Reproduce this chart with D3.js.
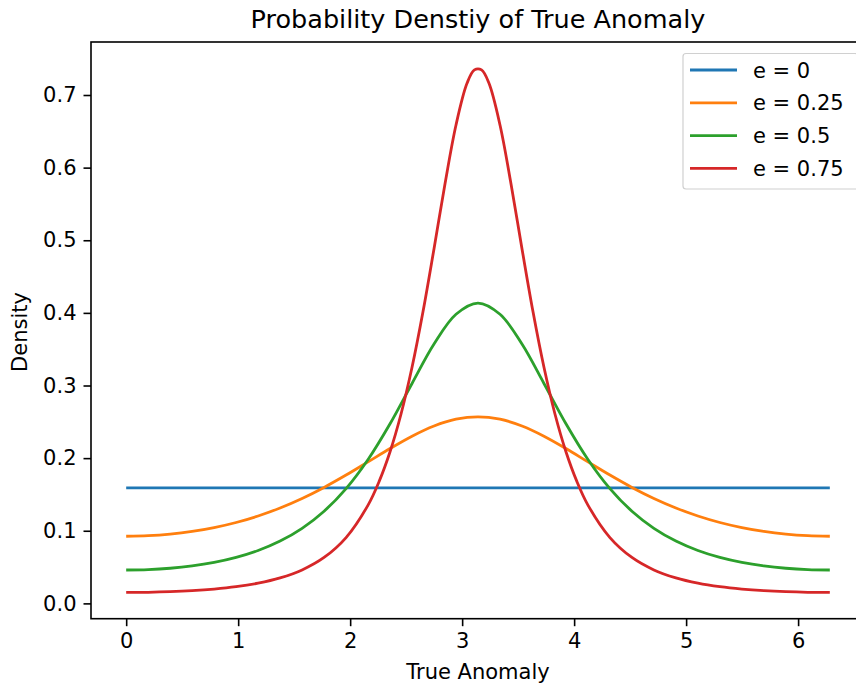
<!DOCTYPE html>
<html><head><meta charset="utf-8">
<script src="https://cdn.jsdelivr.net/npm/d3@7"></script>
<style>body{margin:0;background:#fff}svg{display:block}text{font-family:"DejaVu Sans",sans-serif;fill:#000}</style>
</head><body><svg id="c" width="856" height="686"></svg>
<script>
const xGrid=[0,0.19635,0.3927,0.58905,0.7854,0.98175,1.1781,1.37445,1.5708,1.76715,1.9635,2.15984,2.35619,2.55254,2.74889,2.94524,3.14159,3.33794,3.53429,3.73064,3.92699,4.12334,4.31969,4.51604,4.71239,4.90874,5.10509,5.30144,5.49779,5.69414,5.89049,6.08684,6.28319];
const vals0=[0.15915,0.15915,0.15915,0.15915,0.15915,0.15915,0.15915,0.15915,0.15915,0.15915,0.15915,0.15915,0.15915,0.15915,0.15915,0.15915,0.15915,0.15915,0.15915,0.15915,0.15915,0.15915,0.15915,0.15915,0.15915,0.15915,0.15915,0.15915,0.15915,0.15915,0.15915,0.15915,0.15915];
const vals25=[0.09246,0.09318,0.09534,0.09902,0.10433,0.11138,0.12034,0.13135,0.14447,0.15966,0.17666,0.19483,0.21318,0.23024,0.24428,0.25358,0.25684,0.25358,0.24428,0.23024,0.21318,0.19483,0.17666,0.15966,0.14447,0.13135,0.12034,0.11138,0.10433,0.09902,0.09534,0.09318,0.09246];
const vals50=[0.04594,0.04654,0.04837,0.05158,0.05642,0.06331,0.07284,0.08582,0.10337,0.12693,0.15808,0.19819,0.24737,0.30282,0.35706,0.39805,0.41350,0.39805,0.35706,0.30282,0.24737,0.19819,0.15808,0.12693,0.10337,0.08582,0.07284,0.06331,0.05642,0.05158,0.04837,0.04654,0.04594];
const xRed=[0,0.19635,0.3927,0.58905,0.7854,0.98175,1.1781,1.37445,1.5708,1.76715,1.9635,2.15984,2.25802,2.35619,2.45437,2.55254,2.65072,2.74889,2.84707,2.94524,3.04342,3.1096,3.1731,3.23976,3.33794,3.43612,3.53429,3.63247,3.73064,3.82882,3.92699,4.02517,4.12334,4.31969,4.51604,4.71239,4.90874,5.10509,5.30144,5.49779,5.69414,5.89049,6.08684,6.28319];
const vals75=[0.01504,0.01529,0.01607,0.01747,0.01967,0.02295,0.02781,0.03505,0.04606,0.06320,0.09060,0.13535,0.16760,0.20879,0.26079,0.32507,0.40181,0.48838,0.57794,0.65877,0.71607,0.73464,0.73464,0.71607,0.65877,0.57794,0.48838,0.40181,0.32507,0.26079,0.20879,0.16760,0.13535,0.09060,0.06320,0.04606,0.03505,0.02781,0.02295,0.01967,0.01747,0.01607,0.01529,0.01504];
const seriesNames=["e = 0","e = 0.25","e = 0.5","e = 0.75"];
const seriesX=[xGrid,xGrid,xGrid,xRed];
const seriesVals=[vals0,vals25,vals50,vals75];
const colors=["#1f77b4","#ff7f0e","#2ca02c","#d62728"];
const xTicks=[0,1,2,3,4,5,6];
const yTicks=[0,0.1,0.2,0.3,0.4,0.5,0.6,0.7];

const svg=d3.select("#c");
const L=91,R=865,T=42,B=618.7;
const x=d3.scaleLinear().domain([-0.31416,6.59735]).range([L,R]);
const y=d3.scaleLinear().domain([-0.02109,0.77298]).range([B,T]);

seriesVals.forEach((s,k)=>{
  const xs=seriesX[k];
  const line=d3.line().x((d,i)=>x(xs[i])).y(d=>y(d)).curve(d3.curveCatmullRom);
  svg.append("path").attr("d",line(s)).attr("fill","none").attr("stroke",colors[k]).attr("stroke-width",2.8).attr("stroke-linejoin","round");
});

const FS=21;
const xa=svg.append("g").attr("transform",`translate(0,${B})`).call(d3.axisBottom(x).tickValues(xTicks).tickFormat(d3.format("d")).tickSize(7.5).tickPadding(7));
const ya=svg.append("g").attr("transform",`translate(${L},0)`).call(d3.axisLeft(y).tickValues(yTicks).tickFormat(d3.format(".1f")).tickSize(7.5).tickPadding(7));
[xa,ya].forEach(a=>{a.select(".domain").remove();a.selectAll("line").attr("stroke","#000").attr("stroke-width",1.6);a.selectAll("text").attr("font-size",FS).attr("font-family","DejaVu Sans").attr("fill","#222");});
svg.append("rect").attr("x",L).attr("y",T).attr("width",R-L).attr("height",B-T).attr("fill","none").attr("stroke","#000").attr("stroke-width",1.6);

svg.append("text").attr("x",(L+R)/2).attr("y",28).attr("text-anchor","middle").attr("font-size",25.5).attr("fill","#111").text("Probability Denstiy of True Anomaly");
svg.append("text").attr("x",478).attr("y",679).attr("text-anchor","middle").attr("font-size",FS).attr("fill","#222").text("True Anomaly");
svg.append("text").attr("transform","translate(27,332) rotate(-90)").attr("text-anchor","middle").attr("font-size",FS).attr("fill","#222").text("Density");

const lg=svg.append("g");
lg.append("rect").attr("x",683).attr("y",53.5).attr("width",175).attr("height",135.5).attr("rx",3).attr("fill","#fff").attr("fill-opacity",0.8).attr("stroke","#d0d0d0").attr("stroke-width",1.2);
seriesNames.forEach((n,k)=>{
  const yy=70+k*32.8;
  lg.append("line").attr("x1",690).attr("x2",737).attr("y1",yy).attr("y2",yy).attr("stroke",colors[k]).attr("stroke-width",2.8);
  lg.append("text").attr("x",753).attr("y",yy+7.5).attr("font-size",FS).attr("fill","#222").text(n);
});
</script></body></html>
